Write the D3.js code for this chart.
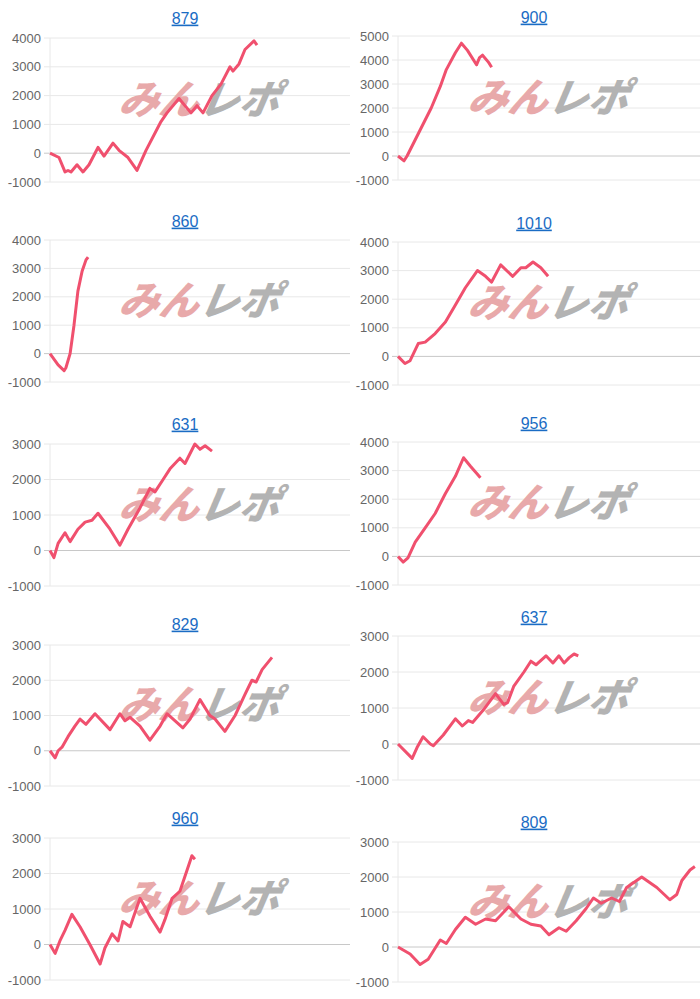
<!DOCTYPE html>
<meta charset="utf-8">
<script src="https://d3js.org/d3.v7.min.js"></script>
<style>
  body { margin: 0; background: #fff; font-family: "Liberation Sans", Arial, sans-serif; }
</style>
<svg id="chart" width="700" height="999"></svg>
<script>
// machine numbers (titles)
const titles = ["879", "900", "860", "1010", "631", "956", "829", "637", "960", "809"];
// top of y axis per chart (bottom is always -1000)
const yMax = [4000, 5000, 4000, 4000, 3000, 4000, 3000, 3000, 3000, 3000];

// [game %, diff coins]
const s879 = [[0,0],[3,-150],[5,-650],[6,-600],[7,-650],[9,-400],[11,-650],[13,-400],[16,200],[18,-100],[21,350],[23,100],[26,-150],[29,-600],[32,100],[37,1100],[39,1400],[43,1900],[47,1400],[49,1650],[51,1400],[54,2000],[57,2400],[60,3000],[61,2850],[63,3100],[65,3600],[68,3900],[69,3750]];
const s900 = [[0,0],[2,-200],[3,0],[7,1000],[11,2000],[14,2900],[16,3600],[19,4300],[21,4700],[23,4400],[26,3800],[27,4100],[28,4200],[30,3900],[31,3700]];
const s860 = [[0,0],[2.7,-400],[4.7,-600],[5.3,-500],[6.7,0],[8,1000],[9.3,2200],[10.7,2900],[12,3300],[12.7,3400]];
const s1010 = [[0,0],[2.3,-250],[4,-150],[6.7,450],[9,500],[12.3,800],[15.7,1200],[19,1800],[22.3,2400],[26.3,3000],[29,2800],[31,2600],[34,3200],[38,2800],[40.7,3100],[42.3,3100],[44.7,3300],[47.3,3100],[49.7,2800]];
const s631 = [[0,0],[1.3,-200],[2.7,200],[5,500],[6.7,250],[9.3,600],[11.7,800],[14,850],[16,1050],[20,600],[23.3,150],[26,600],[30,1200],[33.3,1750],[35,1650],[37.7,2000],[40,2300],[43.3,2600],[45,2450],[48.3,3000],[50,2850],[51.7,2950],[54,2800]];
const s956 = [[0,0],[1.7,-200],[3.3,-50],[5.7,500],[9,1000],[12.3,1500],[15.7,2200],[19,2800],[21.7,3450],[24,3150],[27.3,2750]];
const s829 = [[0,0],[1.7,-200],[2.7,0],[4,100],[6,400],[8.3,700],[10,900],[12,750],[15,1050],[20,600],[23.3,1050],[25,850],[26.7,950],[30,700],[33.3,300],[36.7,700],[39,1050],[41.7,850],[44.3,650],[46.7,900],[50,1450],[53.3,1000],[55,900],[58.3,550],[61.7,1000],[65,1600],[67.3,2000],[68.7,1950],[70.7,2300],[74,2650]];
const s637 = [[0,0],[4.7,-400],[6.3,-100],[8.3,200],[10.7,0],[11.7,-50],[15,250],[19,700],[21.3,500],[23.3,650],[24.7,600],[28.3,950],[32.3,1400],[35,1100],[36.3,1150],[38.3,1600],[41.7,2000],[44,2300],[45.7,2200],[49,2450],[51.3,2250],[53.3,2450],[55,2250],[56.7,2400],[58.3,2500],[59.7,2450]];
const s960 = [[0,0],[1.7,-250],[3.3,100],[5,400],[7.3,850],[10,500],[13.3,0],[16.7,-550],[18.3,-100],[20.7,300],[22.7,100],[24.3,650],[26.7,500],[30,1300],[33.3,800],[36.7,350],[38.3,700],[40.7,1300],[43.3,1500],[45.7,2100],[47.3,2500],[48.3,2400]];
const s809 = [[0,0],[4,-200],[7.3,-500],[10,-350],[14,200],[16,100],[19,500],[22.3,850],[25.7,650],[29,800],[32.3,750],[36.7,1150],[40.7,800],[44,650],[47.3,600],[50,350],[53.3,550],[55.7,450],[59,750],[62.3,1100],[64.7,1400],[67.3,1250],[70.7,1400],[73.3,1300],[75.7,1700],[80.7,2000],[85.7,1700],[90,1350],[92.3,1500],[94,1900],[96.7,2200],[98.3,2300]];
const series = [s879, s900, s860, s1010, s631, s956, s829, s637, s960, s809];

// layout: y pixel of top tick and of -1000 tick
const layout = [
  {col: 0, top: 38, bot: 182, ty: 18},
  {col: 1, top: 36, bot: 180, ty: 17},
  {col: 0, top: 240, bot: 382, ty: 221},
  {col: 1, top: 242, bot: 385, ty: 223},
  {col: 0, top: 444, bot: 586, ty: 424},
  {col: 1, top: 442, bot: 585, ty: 423},
  {col: 0, top: 645, bot: 786, ty: 624},
  {col: 1, top: 636, bot: 780, ty: 617},
  {col: 0, top: 838, bot: 980, ty: 818},
  {col: 1, top: 842, bot: 982, ty: 822}
];
const colX = [[50, 350], [398, 700]];

const svg = d3.select("#chart");

series.forEach(function (data, k) {
  const L = layout[k];
  const [x0, x1] = colX[L.col];
  const x = d3.scaleLinear().domain([0, 100]).range([x0, x1]);
  const y = d3.scaleLinear().domain([-1000, yMax[k]]).range([L.bot, L.top]);
  const g = svg.append("g");
  const ticks = d3.range(-1000, yMax[k] + 1, 1000);

  // grid
  g.selectAll(".grid").data(ticks).join("line")
    .attr("x1", x0 - 6).attr("x2", x1)
    .attr("y1", d => y(d)).attr("y2", d => y(d))
    .attr("stroke", d => d === 0 ? "#c8c8c8" : "#e8e8e8")
    .attr("stroke-width", 1);
  g.append("line")
    .attr("x1", x0).attr("x2", x0).attr("y1", L.top).attr("y2", L.bot)
    .attr("stroke", "#e8e8e8");

  g.selectAll(".tick").data(ticks).join("text")
    .attr("x", x0 - 9).attr("y", d => y(d)).attr("dy", "0.35em")
    .attr("text-anchor", "end")
    .attr("font-size", 13).attr("fill", "#666")
    .text(d => d);

  // watermark
  const wx = (x0 + x1) / 2, wy = (L.top + L.bot) / 2 - 10;
  const wm = g.append("text")
    .attr("x", wx).attr("y", wy + 14)
    .attr("text-anchor", "middle")
    .attr("font-size", 40).attr("font-weight", 900).attr("font-style", "italic")
    .attr("font-family", "'Noto Sans CJK JP', sans-serif")
    .attr("transform", `skewX(-10)`).attr("transform-origin", `${wx} ${wy}`);
  wm.append("tspan").attr("fill", "#e8a9aa").text("みん");
  wm.append("tspan").attr("fill", "#b3b3b3").text("レポ");

  // line
  g.append("path")
    .datum(data)
    .attr("fill", "none")
    .attr("stroke", "#f0506e")
    .attr("stroke-width", 3)
    .attr("stroke-linejoin", "round")
    .attr("d", d3.line().x(d => x(d[0])).y(d => y(d[1])));

  // title
  g.append("text")
    .attr("x", (x0 + x1) / 2 - 15).attr("y", L.ty).attr("dy", "0.35em")
    .attr("text-anchor", "middle")
    .attr("font-size", 16).attr("fill", "#1a6cc4")
    .attr("text-decoration", "underline")
    .text(titles[k]);
});
</script>
